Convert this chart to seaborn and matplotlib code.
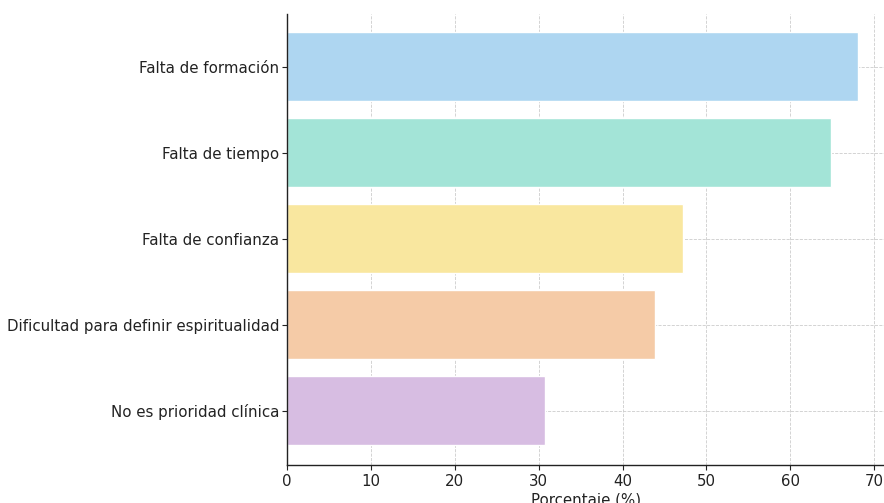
import matplotlib
matplotlib.use("Agg")
import matplotlib.pyplot as plt
import seaborn as sns
import pandas as pd

# Datos
categorias = [
    "Falta de formación",
    "Falta de tiempo",
    "Falta de confianza",
    "Dificultad para definir espiritualidad",
    "No es prioridad clínica",
]
porcentajes = [68.1, 64.8, 47.2, 43.9, 30.8]
colores = ["#AED6F1", "#A3E4D7", "#F9E79F", "#F5CBA7", "#D7BDE2"]

df = pd.DataFrame({"Barrera": categorias, "Porcentaje": porcentajes})

sns.set_style("whitegrid", {"grid.linestyle": "--", "grid.color": "#cccccc"})
plt.rcParams['font.family'] = ['DejaVu Sans']

fig = plt.figure(figsize=(8.84, 5.03), dpi=100)
ax = fig.add_axes([287 / 884, (503 - 465) / 503, (886 - 287) / 884, (465 - 14) / 503])

sns.barplot(data=df, x="Porcentaje", y="Barrera", hue="Barrera",
            palette=colores, legend=False, width=0.8, saturation=1, ax=ax)

ax.set_ylim(4.63, -0.615)
ax.set_xlim(0, 71.4)
ax.set_xticks(range(0, 80, 10))
ax.set_xlabel("Porcentaje (%)", fontsize=10.8, color="#222222", labelpad=3)
ax.set_ylabel("")
ax.tick_params(axis="both", labelsize=10.8, colors="#222222", length=3.5, width=0.8,
               left=True, bottom=True)
ax.tick_params(axis="y", pad=2)
ax.tick_params(axis="x", pad=3)
for b in ax.patches:
    b.set_zorder(1)
ax.grid(True, linestyle="--", linewidth=0.6, color="#cccccc", zorder=3)

for s in ["top", "right"]:
    ax.spines[s].set_visible(False)
for s in ["left", "bottom"]:
    ax.spines[s].set_color("#222222")
    ax.spines[s].set_linewidth(1.0)

plt.savefig("out.png", dpi=100)
